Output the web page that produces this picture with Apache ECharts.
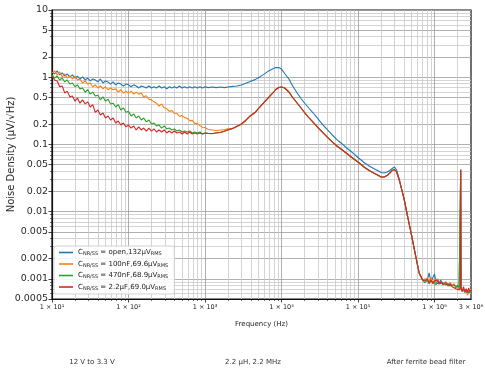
<!DOCTYPE html>
<html>
<head>
<meta charset="utf-8">
<script src="https://cdn.jsdelivr.net/npm/echarts@6/dist/echarts.min.js"></script>
<style>
  html, body { margin: 0; padding: 0; background: #fff; }
  #chart { width: 485px; height: 377px; }
</style>
</head>
<body>
<div id="chart"></div>
<script>
// frequency (Hz), shared by all four curves
const freq = [
  10, 10.8, 11.7, 12.6, 13.6, 14.7, 15.8, 17.1, 18.5, 20,
  21.5, 23.2, 25.1, 27.1, 29.3, 31.6, 34.1, 36.8, 39.8, 42.9,
  46.4, 50, 54, 58.3, 63, 68, 73.5, 79.4, 85.8, 92.6,
  100, 108, 117, 126, 136, 147, 158, 171, 185, 200,
  215, 232, 251, 271, 293, 316, 341, 368, 398, 429,
  464, 501, 541, 584, 631, 681, 735, 794, 858, 926,
  1000,
  1100, 1250, 1400, 1600, 1800, 2000, 2300, 2600, 3000, 3400,
  3900, 4500, 5200, 6000, 6800, 7600, 8400, 9200, 10000,
  11000, 12500, 14000, 16000, 18000, 20000, 23000, 26000, 30000, 35000,
  40000, 46000, 53000, 60000, 70000, 80000, 90000, 100000, 120000, 140000,
  160000, 180000, 200000, 220000, 240000, 260000, 280000, 300000, 320000, 350000,
  400000, 450000, 500000, 560000, 630000, 700000,
  750000, 800000, 850000, 900000, 950000, 1000000, 1050000, 1100000, 1150000, 1200000,
  1300000, 1400000, 1500000, 1600000, 1700000, 1800000, 1900000, 2000000, 2100000, 2180000,
  2200000, 2220000, 2300000, 2400000, 2500000, 2600000, 2700000, 2800000, 2900000, 3000000
];

// noise density (uV/rtHz)
const cOpen = [
  1.2, 1.12, 1.24, 1.08, 1.16, 1.04, 1.12, 1.01, 1.08, 0.97,
  1.04, 0.94, 1.01, 0.91, 0.97, 0.88, 0.94, 0.91, 0.85, 0.94,
  0.82, 0.88, 0.85, 0.79, 0.85, 0.77, 0.82, 0.79, 0.74, 0.79,
  0.77, 0.72, 0.77, 0.74, 0.69, 0.74, 0.72, 0.69, 0.74, 0.69,
  0.72, 0.69, 0.74, 0.69, 0.72, 0.67, 0.72, 0.69, 0.72, 0.69,
  0.74, 0.69, 0.72, 0.69, 0.72, 0.69, 0.72, 0.69, 0.72, 0.69,
  0.72,
  0.70, 0.715, 0.70, 0.715, 0.70, 0.715, 0.73, 0.74, 0.765, 0.81,
  0.86, 0.92, 1.01, 1.12, 1.24, 1.32, 1.39, 1.39, 1.32,
  1.135, 0.94, 0.74, 0.582, 0.482, 0.413, 0.342, 0.293, 0.239, 0.194,
  0.164, 0.138, 0.118, 0.105, 0.090, 0.0798, 0.0708, 0.0638, 0.0538, 0.0477,
  0.0438, 0.0409, 0.0382, 0.0375, 0.0388, 0.0409, 0.0438, 0.0461, 0.0416, 0.0285,
  0.0154, 0.0080, 0.00449, 0.00234, 0.00122, 0.00096,
  0.00099, 0.00093, 0.00122, 0.0009, 0.00087, 0.00118, 0.00087, 0.00093, 0.00084, 0.00096,
  0.00084, 0.0009, 0.00081, 0.00087, 0.00078, 0.00084, 0.00073, 0.00081, 0.00071, 0.00076,
  0.042, 0.00073, 0.00064, 0.00071, 0.00062, 0.00068, 0.00066, 0.00064, 0.00066, 0.00062
];
const c100n = [
  1.16, 1.24, 1.08, 1.2, 1.01, 1.12, 0.97, 1.04, 0.94, 1.04,
  0.91, 0.94, 0.82, 0.88, 0.79, 0.82, 0.72, 0.77, 0.69, 0.74,
  0.67, 0.72, 0.65, 0.69, 0.65, 0.67, 0.6, 0.65, 0.58, 0.62,
  0.58, 0.62, 0.56, 0.6, 0.56, 0.58, 0.51, 0.53, 0.47, 0.46,
  0.43, 0.41, 0.37, 0.4, 0.35, 0.34, 0.31, 0.32, 0.29, 0.29,
  0.26, 0.27, 0.25, 0.245, 0.225, 0.228, 0.205, 0.206, 0.19, 0.18,
  0.178,
  0.167, 0.164, 0.161, 0.164, 0.167, 0.170, 0.174, 0.185, 0.201, 0.227,
  0.265, 0.298, 0.36, 0.428, 0.50, 0.572, 0.656, 0.703, 0.715,
  0.691, 0.602, 0.499, 0.413, 0.348, 0.298, 0.247, 0.212, 0.178, 0.148,
  0.127, 0.109, 0.0947, 0.0855, 0.0745, 0.066, 0.0596, 0.0547, 0.0461, 0.0409,
  0.0375, 0.0351, 0.0327, 0.0327, 0.0344, 0.0375, 0.0409, 0.0423, 0.0388, 0.0285,
  0.0154, 0.0080, 0.00449, 0.00234, 0.00122, 0.00096,
  0.00096, 0.00102, 0.0009, 0.00106, 0.00087, 0.00096, 0.0009, 0.00099, 0.00087, 0.00093,
  0.00084, 0.0009, 0.00081, 0.00087, 0.00078, 0.00084, 0.00076, 0.00078, 0.00071, 0.00073,
  0.042, 0.00068, 0.00071, 0.00066, 0.00068, 0.00064, 0.00057, 0.00062, 0.00066, 0.00064
];
const c470n = [
  1.08, 0.97, 1.04, 0.91, 0.97, 0.85, 0.91, 0.79, 0.82, 0.72,
  0.77, 0.67, 0.69, 0.6, 0.65, 0.56, 0.6, 0.525, 0.54, 0.46,
  0.51, 0.44, 0.47, 0.4, 0.41, 0.36, 0.39, 0.325, 0.35, 0.3,
  0.31, 0.265, 0.283, 0.247, 0.265, 0.231, 0.247, 0.216, 0.231, 0.201,
  0.208, 0.188, 0.194, 0.175, 0.188, 0.17, 0.175, 0.164, 0.17, 0.158,
  0.164, 0.153, 0.158, 0.153, 0.158, 0.148, 0.153, 0.148, 0.153, 0.143,
  0.148,
  0.146, 0.144, 0.149, 0.151, 0.157, 0.165, 0.172, 0.185, 0.201, 0.227,
  0.265, 0.298, 0.36, 0.428, 0.50, 0.572, 0.656, 0.703, 0.715,
  0.691, 0.602, 0.499, 0.413, 0.348, 0.298, 0.247, 0.212, 0.178, 0.148,
  0.127, 0.109, 0.0947, 0.0855, 0.0745, 0.066, 0.0596, 0.0547, 0.0461, 0.0409,
  0.0375, 0.0351, 0.0327, 0.0327, 0.0344, 0.0375, 0.0409, 0.0423, 0.0388, 0.0285,
  0.0154, 0.0080, 0.00449, 0.00234, 0.00122, 0.00096,
  0.00087, 0.00096, 0.00084, 0.00093, 0.00099, 0.00087, 0.00081, 0.00093, 0.00087, 0.00084,
  0.00087, 0.00081, 0.00084, 0.00078, 0.00081, 0.00076, 0.00078, 0.00073, 0.00076, 0.00071,
  0.042, 0.00073, 0.00068, 0.00064, 0.00068, 0.00066, 0.00064, 0.00066, 0.00062, 0.00064
];
const c2u2 = [
  1.04, 0.91, 0.88, 0.72, 0.74, 0.58, 0.62, 0.51, 0.525, 0.44,
  0.49, 0.41, 0.46, 0.4, 0.43, 0.36, 0.39, 0.3, 0.325, 0.274,
  0.293, 0.247, 0.265, 0.231, 0.247, 0.208, 0.223, 0.194, 0.208, 0.182,
  0.194, 0.175, 0.188, 0.164, 0.182, 0.164, 0.175, 0.158, 0.175, 0.158,
  0.17, 0.153, 0.164, 0.153, 0.164, 0.148, 0.158, 0.148, 0.158, 0.148,
  0.153, 0.143, 0.153, 0.143, 0.153, 0.143, 0.148, 0.143, 0.148, 0.143,
  0.148,
  0.145, 0.145, 0.148, 0.150, 0.158, 0.164, 0.172, 0.185, 0.201, 0.227,
  0.265, 0.298, 0.36, 0.428, 0.50, 0.572, 0.656, 0.703, 0.715,
  0.691, 0.602, 0.499, 0.413, 0.348, 0.298, 0.247, 0.212, 0.178, 0.148,
  0.127, 0.109, 0.0947, 0.0855, 0.0745, 0.066, 0.0596, 0.0547, 0.0461, 0.0409,
  0.0375, 0.0351, 0.0327, 0.0327, 0.0344, 0.0375, 0.0409, 0.0423, 0.0388, 0.0285,
  0.0154, 0.0080, 0.00449, 0.00234, 0.00122, 0.00096,
  0.00093, 0.00099, 0.00087, 0.00096, 0.00084, 0.00093, 0.00087, 0.00096, 0.00084, 0.0009,
  0.00081, 0.00087, 0.00078, 0.00084, 0.00076, 0.00081, 0.00071, 0.00076, 0.00068, 0.00073,
  0.042, 0.00071, 0.00066, 0.00076, 0.00064, 0.00071, 0.00062, 0.00073, 0.00064, 0.00068
];

const seriesNames = ['open', '100nF', '470nF', '2.2uF'];
const legendText = [
  'C{s|NR/SS} = open,132μV{s|RMS}',
  'C{s|NR/SS} = 100nF,69.6μV{s|RMS}',
  'C{s|NR/SS} = 470nF,68.9μV{s|RMS}',
  'C{s|NR/SS} = 2.2μF,69.0μV{s|RMS}'
];
const colors = ['#1f77b4', '#ff7f0e', '#2ca02c', '#d62728'];

const xMajor = [10, 100, 1000, 10000, 100000, 1000000];
const xLabelValues = [10, 100, 1000, 10000, 100000, 1000000, 3000000];
const xLabelText = ['1 × 10¹', '1 × 10²', '1 × 10³', '1 × 10⁴', '1 × 10⁵', '1 × 10⁶', '3 × 10⁶'];
const yLabelValues = [0.0005, 0.001, 0.002, 0.005, 0.01, 0.02, 0.05, 0.1, 0.2, 0.5, 1, 2, 5, 10];

const bottomNotes = ['12 V to 3.3 V', '2.2 μH, 2.2 MHz', 'After ferrite bead filter'];

const FONT = 'DejaVu Sans';

// 2..9 x 10^n between lo and hi
function minorValues(lo, hi) {
  const out = [];
  for (let d = Math.floor(Math.log10(lo)); d <= Math.ceil(Math.log10(hi)); d++) {
    for (let k = 2; k <= 9; k++) {
      const v = +(k * Math.pow(10, d)).toPrecision(6);
      if (v > lo && v < hi) out.push(v);
    }
  }
  return out;
}

function near(a, b) {
  return Math.abs(a - b) / Math.abs(b) < 1e-6;
}

const chart = echarts.init(document.getElementById('chart'));

const xFont = { fontSize: 6.5, color: '#222', fontFamily: FONT };
const yFont = { fontSize: 9.5, color: '#2a2a2a', fontFamily: FONT };

chart.setOption({
  animation: false,
  backgroundColor: '#fff',
  color: colors,
  grid: {
    left: 52, right: 14, top: 10, bottom: 78,
    outerBoundsMode: 'none', containLabel: false,
    show: true, borderColor: '#111', borderWidth: 1.2, backgroundColor: 'transparent'
  },
  legend: {
    data: seriesNames,
    orient: 'vertical',
    left: 54, top: 246,
    icon: 'rect',
    itemWidth: 14, itemHeight: 1.6,
    itemGap: 4,
    padding: [3, 6, 3, 5],
    backgroundColor: 'rgba(255,255,255,0.85)',
    borderColor: '#cccccc', borderWidth: 0.8, borderRadius: 2,
    formatter: name => legendText[seriesNames.indexOf(name)],
    textStyle: {
      fontSize: 7, color: '#222', fontFamily: FONT,
      rich: { s: { fontSize: 5, fontFamily: FONT, color: '#222', verticalAlign: 'bottom', padding: [3, 0, 0, 0] } }
    }
  },
  xAxis: [
    {
      type: 'log', logBase: 10, min: 10, max: 3000000,
      name: 'Frequency (Hz)', nameLocation: 'middle', nameGap: 22,
      nameMoveOverlap: false,
      nameTextStyle: { fontSize: 7, color: '#222', fontFamily: FONT },
      axisLine: { show: true, onZero: false, lineStyle: { color: '#111', width: 1.2 } },
      axisTick: { customValues: xMajor, length: 3.5, lineStyle: { color: '#111', width: 0.8 } },
      axisLabel: {
        customValues: xLabelValues, margin: 5, ...xFont,
        formatter: v => {
          const i = xLabelValues.findIndex(t => near(+v, t));
          return i < 0 ? '' : xLabelText[i];
        }
      },
      splitLine: { show: true, lineStyle: { color: '#9c9c9c', width: 0.8 } }
    },
    {
      type: 'log', logBase: 10, min: 10, max: 3000000, position: 'bottom',
      axisLine: { show: false },
      axisTick: { customValues: minorValues(10, 3000000), length: 2, lineStyle: { color: '#111', width: 0.6 } },
      axisLabel: { show: false },
      splitLine: { show: true, lineStyle: { color: '#c9c9c9', width: 0.8 } }
    }
  ],
  yAxis: [
    {
      type: 'log', logBase: 10, min: 0.0005, max: 10,
      name: 'Noise Density (μV/√Hz)', nameLocation: 'middle', nameGap: 36,
      nameMoveOverlap: false,
      nameTextStyle: { fontSize: 10, color: '#2a2a2a', fontFamily: FONT },
      axisLine: { show: true, onZero: false, lineStyle: { color: '#111', width: 1.2 } },
      axisTick: { customValues: yLabelValues, length: 3.5, lineStyle: { color: '#111', width: 0.8 } },
      axisLabel: {
        customValues: yLabelValues, margin: 4, ...yFont,
        formatter: v => String(+(+v).toPrecision(3))
      },
      splitLine: { show: true, lineStyle: { color: '#9c9c9c', width: 0.8 } }
    },
    {
      type: 'log', logBase: 10, min: 0.0005, max: 10, position: 'left',
      axisLine: { show: false },
      axisTick: { customValues: minorValues(0.0005, 10).filter(v => !yLabelValues.some(t => near(v, t))), length: 2, lineStyle: { color: '#111', width: 0.6 } },
      axisLabel: { show: false },
      splitLine: { show: true, lineStyle: { color: '#c9c9c9', width: 0.8 } }
    }
  ],
  series: [cOpen, c100n, c470n, c2u2].map((vals, k) => ({
    name: seriesNames[k],
    type: 'line',
    xAxisIndex: 0,
    yAxisIndex: 0,
    symbol: 'none',
    lineStyle: { width: 1.1, color: colors[k] },
    z: 3 + k,
    data: freq.map((f, i) => [f, vals[i]])
  })),
  graphic: bottomNotes.map((t, i) => ({
    type: 'text',
    x: [92, 253, 426][i],
    y: 362,
    style: { text: t, fontSize: 7, fill: '#333', fontFamily: FONT, align: 'center', verticalAlign: 'middle' }
  }))
});
</script>
</body>
</html>
